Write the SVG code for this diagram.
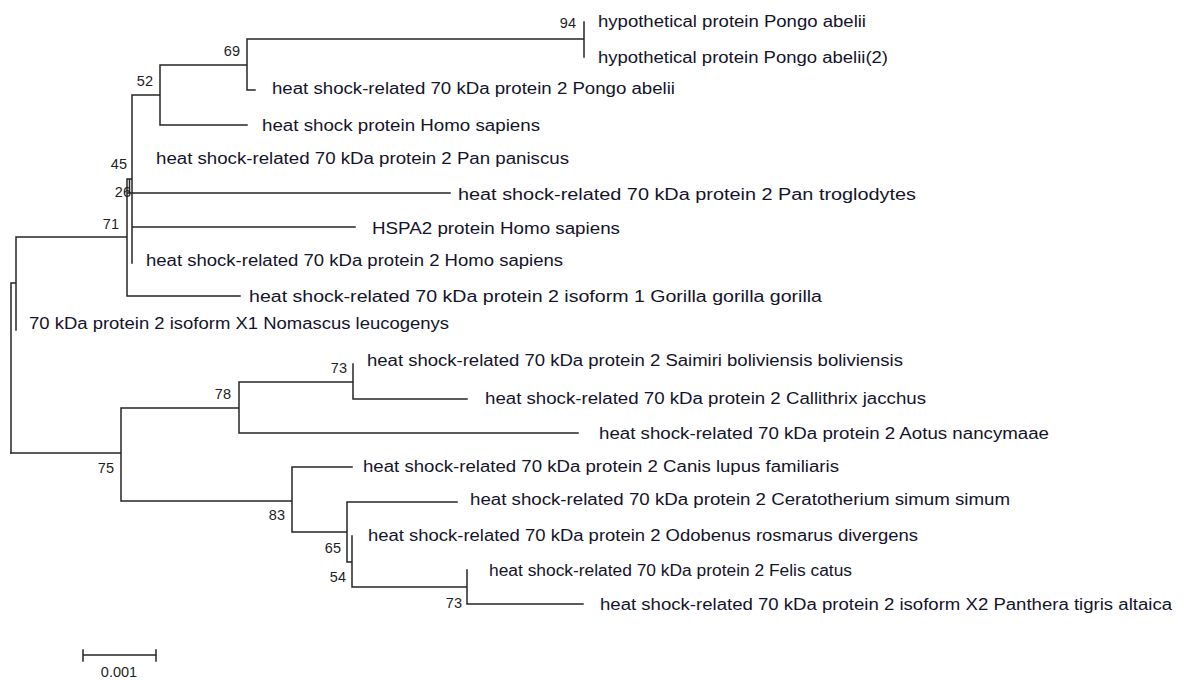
<svg xmlns="http://www.w3.org/2000/svg" width="1184" height="680" viewBox="0 0 1184 680">
<style>
.br{fill:none;stroke:#262626;stroke-width:1.5;stroke-linecap:square}
.lf{font-family:"Liberation Sans",Arial,sans-serif;font-size:16px;fill:#14142a}
.bs{font-family:"Liberation Sans",Arial,sans-serif;font-size:14.5px;fill:#1e1e1e;text-anchor:end}
.sc{font-family:"Liberation Sans",Arial,sans-serif;font-size:14.5px;fill:#1e1e1e;text-anchor:middle}
</style>
<rect width="1184" height="680" fill="#fff"/>
<g id="connectors">
<path class="br" d="M11 283V453M11 283H16M16 237V330M16 237H127M127 179V296M127 296H240M127 179H132M129.5 179V193M127 193H450M132 95V263M132 227H355M132 95H160M160 65V125M160 125H247M160 65H247M247 39V90M247 90H255M247 39H584M584 22V57"/>
<path class="br" d="M11 453H121M121 408V501M121 408H239M239 382V433M239 433H578M239 382H353M353 364V399M353 399H467M121 501H292M292 467V532M292 467H352M292 532H347M347 502V562M347 502H457M347 562H352M352 536V587M352 587H467M467 570V604M467 604H583"/>
</g>
<g id="leaves">
<g id="n1"><text class="lf" x="598" y="27" textLength="268" lengthAdjust="spacingAndGlyphs">hypothetical protein Pongo abelii</text></g>
<g id="n2"><text class="lf" x="598" y="63" textLength="290" lengthAdjust="spacingAndGlyphs">hypothetical protein Pongo abelii(2)</text></g>
<g id="n3"><text class="lf" x="272" y="94" textLength="403" lengthAdjust="spacingAndGlyphs">heat shock-related 70 kDa protein 2 Pongo abelii</text></g>
<g id="n4"><text class="lf" x="262" y="131" textLength="278" lengthAdjust="spacingAndGlyphs">heat shock protein Homo sapiens</text></g>
<g id="n5"><text class="lf" x="156" y="164" textLength="413" lengthAdjust="spacingAndGlyphs">heat shock-related 70 kDa protein 2 Pan paniscus</text></g>
<g id="n6"><text class="lf" x="458" y="200" textLength="458" lengthAdjust="spacingAndGlyphs">heat shock-related 70 kDa protein 2 Pan troglodytes</text></g>
<g id="n7"><text class="lf" x="372" y="234" textLength="248" lengthAdjust="spacingAndGlyphs">HSPA2 protein Homo sapiens</text></g>
<g id="n8"><text class="lf" x="146" y="266" textLength="417" lengthAdjust="spacingAndGlyphs">heat shock-related 70 kDa protein 2 Homo sapiens</text></g>
<g id="n9"><text class="lf" x="249" y="302" textLength="573" lengthAdjust="spacingAndGlyphs">heat shock-related 70 kDa protein 2 isoform 1 Gorilla gorilla gorilla</text></g>
<g id="n10"><text class="lf" x="29" y="329" textLength="420" lengthAdjust="spacingAndGlyphs">70 kDa protein 2 isoform X1 Nomascus leucogenys</text></g>
<g id="n11"><text class="lf" x="367" y="366" textLength="536" lengthAdjust="spacingAndGlyphs">heat shock-related 70 kDa protein 2 Saimiri boliviensis boliviensis</text></g>
<g id="n12"><text class="lf" x="485" y="404" textLength="441" lengthAdjust="spacingAndGlyphs">heat shock-related 70 kDa protein 2 Callithrix jacchus</text></g>
<g id="n13"><text class="lf" x="599" y="439" textLength="450" lengthAdjust="spacingAndGlyphs">heat shock-related 70 kDa protein 2 Aotus nancymaae</text></g>
<g id="n14"><text class="lf" x="363" y="472" textLength="476" lengthAdjust="spacingAndGlyphs">heat shock-related 70 kDa protein 2 Canis lupus familiaris</text></g>
<g id="n15"><text class="lf" x="470" y="505" textLength="540" lengthAdjust="spacingAndGlyphs">heat shock-related 70 kDa protein 2 Ceratotherium simum simum</text></g>
<g id="n16"><text class="lf" x="368" y="541" textLength="550" lengthAdjust="spacingAndGlyphs">heat shock-related 70 kDa protein 2 Odobenus rosmarus divergens</text></g>
<g id="n17"><text class="lf" x="489" y="576" textLength="363" lengthAdjust="spacingAndGlyphs">heat shock-related 70 kDa protein 2 Felis catus</text></g>
<g id="n18"><text class="lf" x="600" y="610" textLength="572" lengthAdjust="spacingAndGlyphs">heat shock-related 70 kDa protein 2 isoform X2 Panthera tigris altaica</text></g>
</g>
<g id="bootstrap">
<text class="bs" x="576" y="28">94</text>
<text class="bs" x="240" y="56">69</text>
<text class="bs" x="153" y="86">52</text>
<text class="bs" x="127" y="169">45</text>
<text class="bs" x="131" y="197">26</text>
<text class="bs" x="119" y="229">71</text>
<text class="bs" x="347" y="373">73</text>
<text class="bs" x="231" y="399">78</text>
<text class="bs" x="114" y="473">75</text>
<text class="bs" x="285" y="520">83</text>
<text class="bs" x="341" y="553">65</text>
<text class="bs" x="346" y="582">54</text>
<text class="bs" x="462" y="608">73</text>
</g>
<g id="scale">
<path class="br" d="M83 655H156M83 650V661M156 650V661"/>
<text class="sc" x="119" y="677">0.001</text>
</g>
</svg>
